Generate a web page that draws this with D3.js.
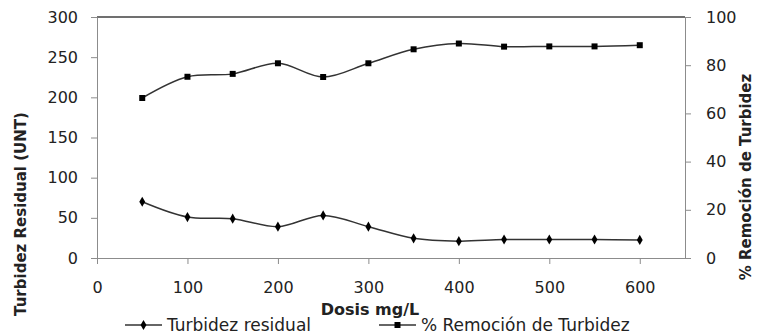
<!DOCTYPE html>
<html>
<head>
<meta charset="utf-8">
<script src="https://cdn.jsdelivr.net/npm/d3@7"></script>
<style>
  body { margin: 0; background: #fff; }
  text { font-family: "DejaVu Sans", sans-serif; fill: #222; }
</style>
</head>
<body>
<svg width="757" height="335"></svg>
<script>
// Data
const dosis = [50, 100, 150, 200, 250, 300, 350, 400, 450, 500, 550, 600];
const turbidez = [70, 51, 49, 39, 53, 39, 24.5, 21, 23, 23, 23, 22.5];
const remocion = [66.4, 75.2, 76.4, 80.8, 75.1, 80.8, 86.6, 89, 87.7, 87.8, 87.8, 88.3];
const xTicks = [0, 100, 200, 300, 400, 500, 600];
const yLeftTicks = [0, 50, 100, 150, 200, 250, 300];
const yRightTicks = [0, 20, 40, 60, 80, 100];

const width = 757;
const height = 335;
const margin = { top: 17, right: 72, bottom: 77, left: 97 };

const svg = d3.select("svg");

const x = d3.scaleLinear().domain([0, 650]).range([margin.left, width - margin.right]);
const yL = d3.scaleLinear().domain([0, 300]).range([height - margin.bottom, margin.top]);
const yR = d3.scaleLinear().domain([0, 100]).range([height - margin.bottom, margin.top]);

const axisColor = "#8c8c8c";

// top border of plot area
svg.append("line")
  .attr("x1", margin.left).attr("x2", width - margin.right)
  .attr("y1", margin.top).attr("y2", margin.top)
  .attr("stroke", "#404040").attr("stroke-width", 1.5);

function styleAxis(g) {
  g.selectAll("path, line").attr("stroke", axisColor);
  g.selectAll("text").style("font-size", "16px").attr("fill", "#222")
    .style("font-family", "DejaVu Sans, sans-serif");
}

// Axes
svg.append("g")
  .attr("transform", `translate(0,${height - margin.bottom})`)
  .call(d3.axisBottom(x).tickValues(xTicks).tickSize(6).tickSizeOuter(0).tickPadding(18))
  .call(styleAxis);

svg.append("g")
  .attr("transform", `translate(${margin.left},0)`)
  .call(d3.axisLeft(yL).tickValues(yLeftTicks).tickSize(6).tickSizeOuter(0).tickPadding(13))
  .call(styleAxis);

svg.append("g")
  .attr("transform", `translate(${width - margin.right},0)`)
  .call(d3.axisRight(yR).tickValues(yRightTicks).tickSize(6).tickSizeOuter(0).tickPadding(15))
  .call(styleAxis);

// Lines
const lineL = d3.line()
  .x((d, i) => x(dosis[i]))
  .y((d) => yL(d))
  .curve(d3.curveCatmullRom.alpha(0.5));

const lineR = d3.line()
  .x((d, i) => x(dosis[i]))
  .y((d) => yR(d))
  .curve(d3.curveCatmullRom.alpha(0.5));

svg.append("path").datum(turbidez)
  .attr("fill", "none").attr("stroke", "#333").attr("stroke-width", 1.5)
  .attr("d", lineL);

svg.append("path").datum(remocion)
  .attr("fill", "none").attr("stroke", "#333").attr("stroke-width", 1.5)
  .attr("d", lineR);

const diamond = d3.symbol().type(d3.symbolDiamond).size(30);
const square = d3.symbol().type(d3.symbolSquare).size(36);

svg.append("g").selectAll("path")
  .data(turbidez)
  .join("path")
  .attr("d", diamond)
  .attr("transform", (d, i) => `translate(${x(dosis[i])},${yL(d)})`)
  .attr("fill", "#000");

svg.append("g").selectAll("path")
  .data(remocion)
  .join("path")
  .attr("d", square)
  .attr("transform", (d, i) => `translate(${x(dosis[i])},${yR(d)})`)
  .attr("fill", "#000");

// Axis titles
svg.append("text")
  .attr("x", 370).attr("y", 315)
  .attr("text-anchor", "middle")
  .style("font-size", "16px").style("font-weight", "bold")
  .text("Dosis mg/L");

svg.append("text")
  .attr("transform", "translate(26,214) rotate(-90)")
  .attr("text-anchor", "middle")
  .style("font-size", "15px").style("font-weight", "bold")
  .text("Turbidez  Residual (UNT)");

svg.append("text")
  .attr("transform", "translate(751,177) rotate(-90)")
  .attr("text-anchor", "middle")
  .style("font-size", "15px").style("font-weight", "bold")
  .text("% Remoción de Turbidez");

// Legend
const legend = [
  { label: "Turbidez residual", sym: diamond, x0: 125 },
  { label: "% Remoción de Turbidez", sym: square, x0: 379 }
];

const lg = svg.append("g").selectAll("g")
  .data(legend)
  .join("g")
  .attr("transform", (d) => `translate(${d.x0},325)`);

lg.append("line")
  .attr("x1", 0).attr("x2", 37)
  .attr("stroke", "#333").attr("stroke-width", 1.5);

lg.append("path")
  .attr("d", (d) => d.sym())
  .attr("transform", "translate(18.5,0)")
  .attr("fill", "#000");

lg.append("text")
  .attr("x", 42).attr("y", 5.5)
  .style("font-size", "17px")
  .text((d) => d.label);
</script>
</body>
</html>
